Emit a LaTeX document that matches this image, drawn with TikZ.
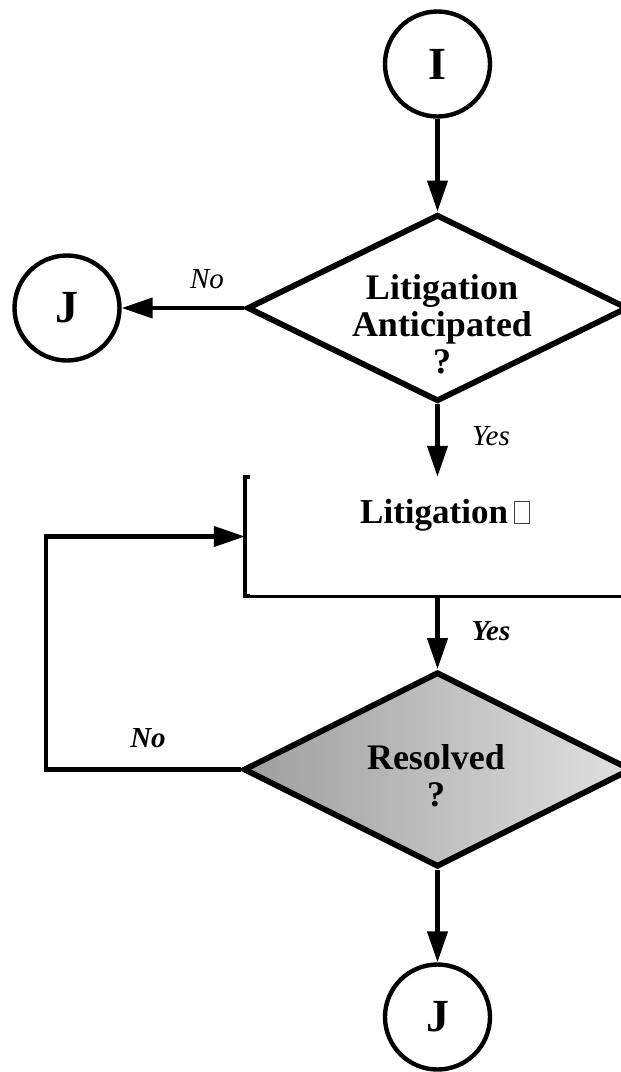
\documentclass[tikz,border=0pt]{standalone}
\usepackage{fontspec}
\setmainfont{Liberation Serif}
\usetikzlibrary{shapes.geometric,arrows.meta}
% small hollow box printed after the process label
\newcommand\emptyglyphbox{{\color{black!75}\setlength\fboxrule{1pt}\setlength\fboxsep{0pt}\fbox{\rule{0pt}{21pt}\hspace{14pt}}}}
\begin{document}
\begin{tikzpicture}[x=1pt,y=-1pt,
  conn/.style={line width=4.2pt,-{Triangle[length=31pt,width=20pt]}},
  connector/.style={circle,draw,line width=4.4pt,minimum size=105pt,inner sep=0pt,
    font=\fontsize{46}{46}\selectfont\bfseries},
  decision/.style={diamond,draw,line width=5.8pt,inner sep=0pt,line join=miter},
  answer/.style={font=\fontsize{29}{29}\selectfont\itshape},
  answerbold/.style={font=\fontsize{29}{29}\selectfont\bfseries\itshape},
  btext/.style={font=\fontsize{36}{37}\selectfont\bfseries,align=center},
]
\useasboundingbox (0,0) rectangle (621,1072);

% connectors (off-page references)
\node[connector] (I)  at (437.5,64)  {I};
\node[connector] (Jl) at (67,308)    {J};
\node[connector] (Jb) at (437.5,1017) {J};

% first decision
\node[decision,minimum width=381pt,minimum height=187pt] (d1) at (437.5,308) {};
\node[btext] (t1) at (442,324) {Litigation\\Anticipated\\?};

% process box (left side and bottom edge only)
\node[minimum width=415pt,minimum height=119pt,inner sep=0pt] (box) at (452.5,536.5) {};
\draw[line width=4.2pt,line cap=butt]
  ([xshift=5pt]box.north west) -- (box.north west) -- (box.south west) -- ([xshift=5pt]box.south west);
\draw[line width=2.8pt] (box.south west) -- (box.south east);
\node[font=\fontsize{35}{37}\selectfont\bfseries,anchor=base] (t3) at (445,523) {Litigation\,\emptyglyphbox};

% second decision
\node[decision,minimum width=388pt,minimum height=195pt,
      left color=black!38,right color=black!12] (d2) at (437.5,769.5) {};
\node[btext] (t2) at (436,776) {Resolved\\?};

% flow
\draw[conn] (I.south) -- (d1.north);
\draw[conn] (d1.west) -- (Jl.east);
\node[answer] (no1) at (207,279) {No};
\draw[conn] (d1.south) -- (d1.south |- box.north);
\node[answer] (yes1) at (491,436) {Yes};
\draw[conn] (box.south -| d2.north) -- (d2.north);
\node[answerbold] (yes2) at (491,631) {Yes};
\draw[conn] (d2.south) -- (Jb.north);
\draw[conn,line join=miter] (d2.west) -- ++(-195,0) |- (box.west);
\node[answerbold] (no2) at (148,738) {No};
\end{tikzpicture}
\end{document}
